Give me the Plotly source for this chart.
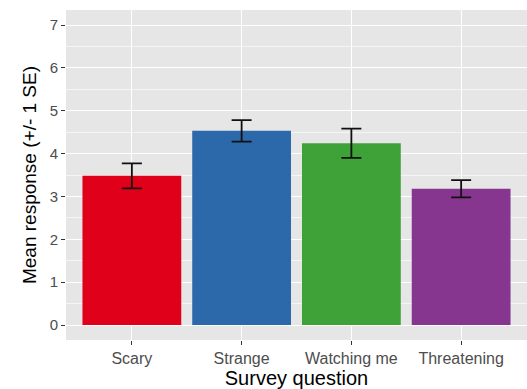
import plotly.graph_objects as go

# Survey results: mean response and standard error per question
questions = ["Scary", "Strange", "Watching me", "Threatening"]
means = [3.48, 4.53, 4.24, 3.18]
std_err = [0.29, 0.25, 0.34, 0.20]
bar_colors = ["#E0001A", "#2C69AA", "#3EA239", "#86368F"]

fig = go.Figure()
fig.add_trace(go.Bar(
    x=questions,
    y=means,
    width=0.9,
    marker=dict(color=bar_colors, line=dict(width=0)),
    error_y=dict(type="data", array=std_err, visible=True,
                 color="#111111", thickness=1.8, width=10),
    showlegend=False,
))

font_family = "Liberation Sans, Arial, sans-serif"
x_tick_font = dict(family=font_family, size=16, color="#4D4D4D")
y_tick_font = dict(family=font_family, size=15, color="#4D4D4D")

fig.update_layout(
    width=527, height=389,
    margin=dict(l=66, r=0, t=10, b=49),
    paper_bgcolor="white",
    plot_bgcolor="#E6E6E6",
    bargap=0.1,
    xaxis=dict(
        range=[-0.6, 3.6],
        showgrid=True, gridcolor="white", gridwidth=1.4,
        ticks="outside", ticklen=4, tickcolor="#333333", tickwidth=1,
        tickfont=x_tick_font,
        title=dict(text="Survey question",
                   font=dict(family=font_family, size=20, color="#000000"),
                   standoff=2),
        zeroline=False, showline=False,
    ),
    yaxis=dict(
        range=[-0.35, 7.35],
        tickvals=[0, 1, 2, 3, 4, 5, 6, 7],
        showgrid=True, gridcolor="white", gridwidth=1.4,
        minor=dict(dtick=0.5, tick0=0.5, showgrid=True, gridcolor="#F5F5F5", gridwidth=0.7),
        ticks="outside", ticklen=4, tickcolor="#333333", tickwidth=1,
        tickfont=y_tick_font,
        title=dict(text="Mean response (+/- 1 SE)",
                   font=dict(family=font_family, size=19, color="#000000"),
                   standoff=8),
        zeroline=False, showline=False,
    ),
)

fig.write_html("out.html")
